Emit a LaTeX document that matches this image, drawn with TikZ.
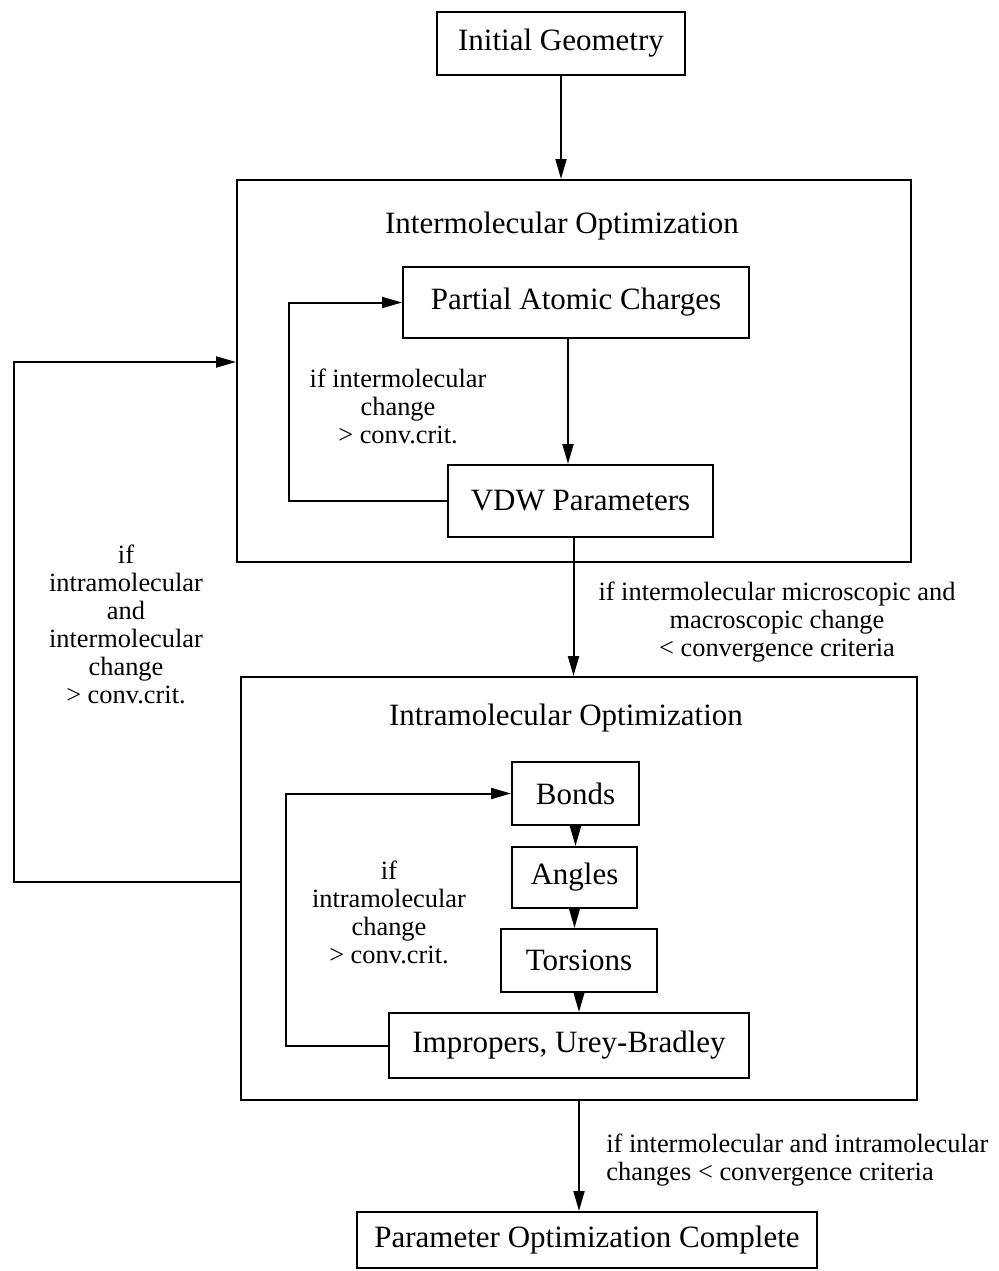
\documentclass[tikz,border=0pt]{standalone}
\usepackage{fontspec}
\setmainfont{Liberation Serif}
\usetikzlibrary{arrows.meta}
\newcommand{\boxfont}{\fontsize{15.5}{18}\selectfont}
\newcommand{\notefont}{\fontsize{13.2}{14}\selectfont}

\begin{document}
\begin{tikzpicture}[
    x=0.5pt, y=-0.5pt,
    every node/.style={inner sep=0pt},
    stepbox/.style={draw, line width=1pt, font=\boxfont},
    title/.style={font=\boxfont},
    note/.style={font=\notefont, align=center},
    link/.style={line width=1pt, -{Triangle[length=10pt, width=5.5pt]}},
    back/.style={line width=1pt}
]
\useasboundingbox (0,0) rectangle (999,1271);

% Boxes
\node[stepbox, minimum width=124pt, minimum height=31.5pt] (init) at (561,43.5) {Initial Geometry};
\node[stepbox, minimum width=337pt, minimum height=191pt] (intercont) at (574,371) {};
\node[title] (intertitle) at (562,226) {Intermolecular Optimization};
\node[stepbox, minimum width=173pt, minimum height=35.5pt] (part) at (576,302.5) {Partial Atomic Charges};
\node[stepbox, minimum width=132.5pt, minimum height=36pt] (vdw) at (580.5,501) {VDW Parameters};

\node[stepbox, minimum width=338pt, minimum height=211.5pt] (intracont) at (579,888.5) {};
\node[title] (intratitle) at (566,718) {Intramolecular Optimization};
\node[stepbox, minimum width=63.5pt, minimum height=31.5pt] (bonds) at (575.5,793.5) {Bonds};
\node[stepbox, minimum width=62.5pt, minimum height=30.5pt] (angles) at (574.5,877.5) {Angles};
\node[stepbox, minimum width=78pt, minimum height=31.5pt] (tors) at (579,960.5) {Torsions};
\node[stepbox, minimum width=180pt, minimum height=32.5pt] (impr) at (569,1045.5) {Impropers, Urey-Bradley};

\node[stepbox, minimum width=230pt, minimum height=28pt] (final) at (587,1240) {Parameter Optimization Complete};

% Labels
\node[note] (noteinter) at (398,406) {if intermolecular\\change\\> conv.crit.};
\node[note] (noteintra) at (389,912) {if\\intramolecular\\change\\> conv.crit.};
\node[note] (noteouter) at (126,624) {if\\intramolecular\\and\\intermolecular\\change\\> conv.crit.};
\node[note] (notedown) at (777,622) {if intermolecular microscopic and\\macroscopic change\\< convergence criteria};
\node[note, align=left, anchor=west] (noteend) at (606,1160) {if intermolecular and intramolecular\\changes < convergence criteria};

% Forward arrows
\draw[link] (init.south) -- (init.south |- intercont.north);
\draw[link] ([xshift=-4pt]part.south) -- ([xshift=-4pt]part.south |- vdw.north);
\draw[link] ([xshift=-3.5pt]vdw.south) -- ([xshift=-3.5pt]vdw.south |- intracont.north);
\draw[link] (bonds.south) -- (bonds.south |- angles.north);
\draw[link] (angles.south) -- (angles.south |- tors.north);
\draw[link] (tors.south) -- (tors.south |- impr.north);
\draw[link] (intracont.south) -- (intracont.south |- final.north);

% Feedback loops
\draw[back, -{Triangle[length=10pt, width=5.5pt]}] (vdw.west) -- ++(-158,0) |- (part.west);
\draw[back, -{Triangle[length=10pt, width=5.5pt]}] (impr.west) -- ++(-102,0) |- (bonds.west);
\draw[back, -{Triangle[length=10pt, width=5.5pt]}] ([yshift=3.5pt]intracont.west) -- ++(-226,0) |- ([yshift=4.5pt]intercont.west);
\end{tikzpicture}
\end{document}
